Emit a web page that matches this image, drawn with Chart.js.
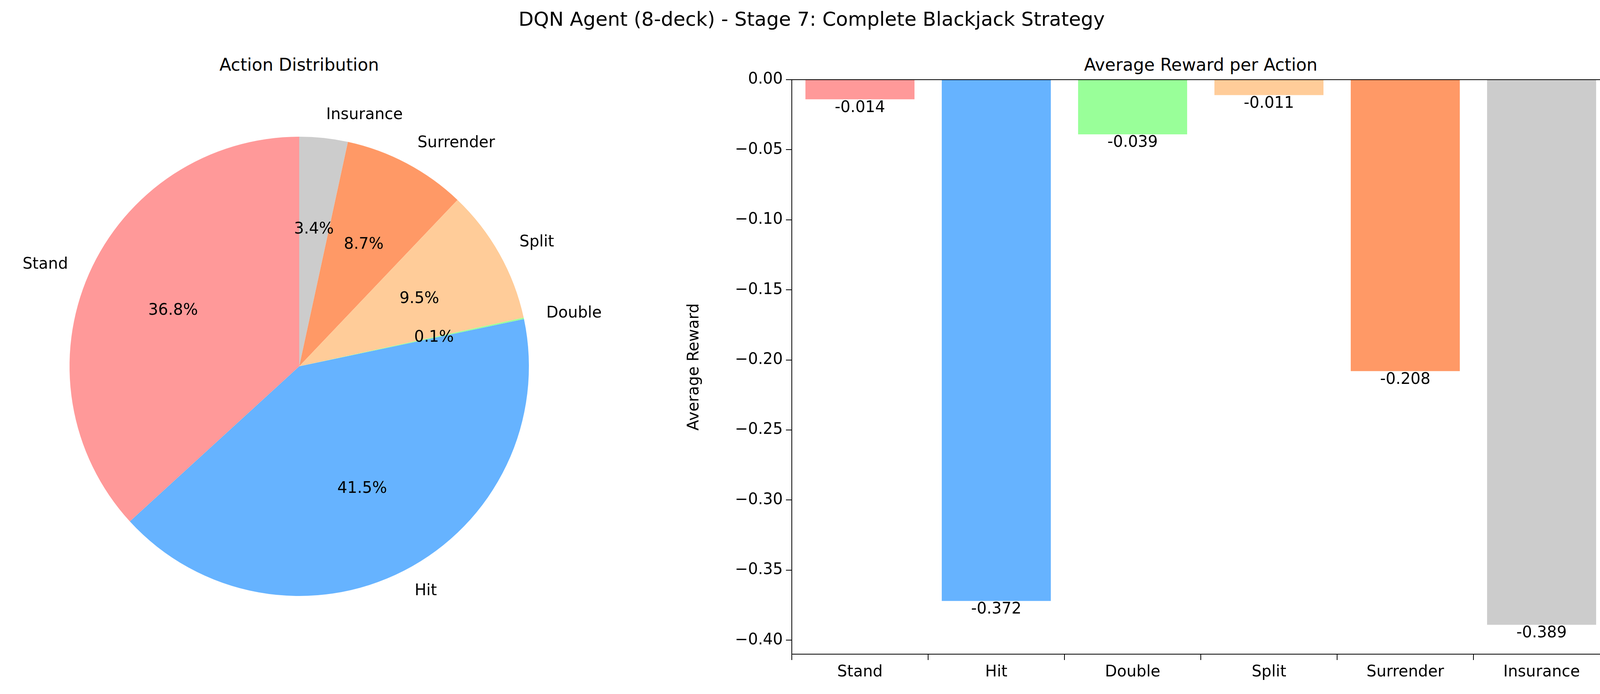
<!DOCTYPE html>
<html>
<head>
<meta charset="utf-8">
<script src="https://cdn.jsdelivr.net/npm/chart.js@4"></script>
<style>
body { margin:0; background:#fff; font-family:"DejaVu Sans", sans-serif; }
#wrap { position:relative; width:4156px; height:1777px; }
.t { position:absolute; color:#000; white-space:nowrap; transform:translateX(-50%); }
canvas { position:absolute; top:0; }
</style>
</head>
<body>
<div id="wrap">
  <div class="t" style="left:2078px;top:20px;font-size:50px">DQN Agent (8-deck) - Stage 7: Complete Blackjack Strategy</div>
  <div class="t" style="left:766px;top:140px;font-size:44px">Action Distribution</div>
  <div class="t" style="left:3074px;top:140px;font-size:44px">Average Reward per Action</div>
  <div style="position:absolute;left:0;top:0;width:1740px;height:1777px"><canvas id="pie"></canvas></div>
  <div style="position:absolute;left:1750px;top:0;width:2406px;height:1777px"><canvas id="bar"></canvas></div>
</div>
<script>
// data
var actions = ['Stand', 'Hit', 'Double', 'Split', 'Surrender', 'Insurance'];
var sharePct = [36.8, 41.5, 0.1, 9.5, 8.7, 3.4];
var avgReward = [-0.014, -0.372, -0.039, -0.011, -0.208, -0.389];
var colors = ['#ff9999', '#66b3ff', '#99ff99', '#ffcc99', '#ff9966', '#cccccc'];
var yTicks = [0, -0.05, -0.10, -0.15, -0.20, -0.25, -0.30, -0.35, -0.40];

var font = '"DejaVu Sans", sans-serif';

// matplotlib draws counter-clockwise from the top, chart.js clockwise -> reverse
var pieLabels = actions.slice().reverse();
var pieData = sharePct.slice().reverse();
var pieColors = colors.slice().reverse();

var pieText = {
  id: 'pieText',
  afterDraw: function (chart) {
    var c = chart.ctx;
    var arcs = chart.getDatasetMeta(0).data;
    c.save();
    c.fillStyle = '#000';
    c.font = '40px ' + font;
    arcs.forEach(function (a, i) {
      var mid = (a.startAngle + a.endAngle) / 2;
      var r = a.outerRadius;
      var cx = Math.cos(mid), cy = Math.sin(mid);
      c.textBaseline = 'middle';
      c.textAlign = cx >= 0 ? 'left' : 'right';
      c.fillText(pieLabels[i], a.x + cx * r * 1.1, a.y + cy * r * 1.1);
      c.textAlign = 'center';
      c.fillText(pieData[i].toFixed(1) + '%', a.x + cx * r * 0.6, a.y + cy * r * 0.6);
    });
    c.restore();
  }
};

new Chart(document.getElementById('pie'), {
  type: 'pie',
  data: { labels: pieLabels, datasets: [{ data: pieData, backgroundColor: pieColors, borderWidth: 0 }] },
  options: {
    responsive: true, maintainAspectRatio: false, animation: false,
    layout: { padding: { top: 350, bottom: 251, right: 208 } },
    plugins: { legend: { display: false }, tooltip: { enabled: false } }
  },
  plugins: [pieText]
});

var barText = {
  id: 'barText',
  afterDraw: function (chart) {
    var c = chart.ctx, a = chart.chartArea;
    c.save();
    c.strokeStyle = '#000';
    c.lineWidth = 2;
    c.strokeRect(a.left, a.top, a.right - a.left, a.bottom - a.top);
    c.fillStyle = '#000';
    c.font = '40px ' + font;
    c.textAlign = 'center';
    c.textBaseline = 'top';
    chart.getDatasetMeta(0).data.forEach(function (b, i) {
      c.fillText(avgReward[i].toFixed(3), b.x, b.y + 2);
    });
    c.restore();
  }
};

new Chart(document.getElementById('bar'), {
  type: 'bar',
  data: { labels: actions, datasets: [{ data: avgReward, backgroundColor: colors, categoryPercentage: 0.8, barPercentage: 1 }] },
  options: {
    responsive: true, maintainAspectRatio: false, animation: false,
    layout: { padding: { top: 204, right: 35 } },
    plugins: { legend: { display: false }, tooltip: { enabled: false } },
    scales: {
      x: {
        grid: { drawOnChartArea: false, tickLength: 15, color: '#000', lineWidth: 2 },
        border: { display: true, color: '#000', width: 2 },
        ticks: { color: '#000', font: { family: font, size: 40 }, padding: 8 },
        afterFit: function (s) { s.height = 102; }
      },
      y: {
        min: -0.41, max: 0,
        afterBuildTicks: function (s) { s.ticks = yTicks.map(function (v) { return { value: v }; }); },
        grid: { drawOnChartArea: false, tickLength: 15, color: '#000', lineWidth: 2 },
        border: { display: true, color: '#000', width: 2 },
        ticks: { color: '#000', font: { family: font, size: 40 }, padding: 8,
          callback: function (v) { return (v < 0 ? '\u2212' : '') + Math.abs(v).toFixed(2); } },
        title: { display: true, text: 'Average Reward', color: '#000', font: { family: font, size: 40 } },
        afterFit: function (s) { s.width = 277; }
      }
    }
  },
  plugins: [barText]
});
</script>
</body>
</html>
